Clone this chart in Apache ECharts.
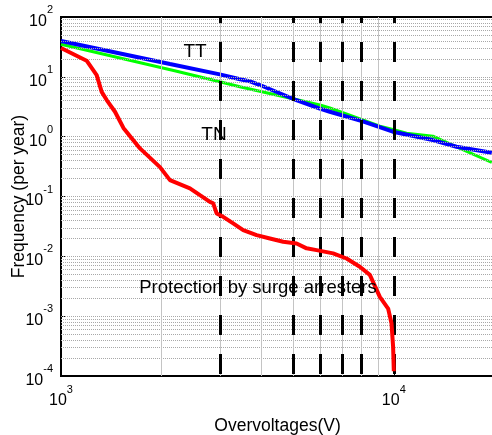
<!DOCTYPE html>
<html>
<head>
<meta charset="utf-8">
<script src="https://cdn.jsdelivr.net/npm/echarts@6/dist/echarts.min.js"></script>
<style>
  html, body { margin: 0; padding: 0; background: #fff; }
  #chart { width: 492px; height: 435px; }
</style>
</head>
<body>
<div id="chart"></div>
<script>
// TT (blue)
var ttData = [
  [1000, 39.7], [2125, 16.4], [3000, 11.0], [3450, 9.1], [3700, 8.4], [3960, 7.3],
  [4974, 4.3], [5996, 2.95], [6423, 2.61], [8070, 1.8], [9931, 1.21],
  [13100, 0.877], [15430, 0.678], [19700, 0.538]
];
// TN (green)
var tnData = [
  [1000, 35.0], [2195, 12.6], [3002, 8.28], [3446, 6.83], [4974, 4.3], [5996, 3.38],
  [6423, 3.01], [8070, 1.9], [9078, 1.5], [9931, 1.32], [10920, 1.14],
  [13100, 1.02], [15430, 0.678], [19700, 0.37]
];
// protection by surge arresters (red)
var spdData = [
  [1000, 30.3], [1194, 18.6], [1280, 10.7], [1325, 5.6], [1372, 4.09], [1453, 2.61],
  [1540, 1.4], [1727, 0.637], [1983, 0.31], [2125, 0.188], [2440, 0.137],
  [2615, 0.1055], [2802, 0.0815], [2867, 0.077], [2935, 0.052], [3072, 0.0458],
  [3291, 0.0355], [3527, 0.0274], [3870, 0.0226], [4243, 0.0199], [4652, 0.0175],
  [5104, 0.0164], [5469, 0.0136], [5861, 0.0127], [6572, 0.0112], [7211, 0.0092],
  [7904, 0.0067], [8472, 0.0049], [9078, 0.0021], [9614, 0.00134], [9842, 0.00076],
  [9951, 0.00031], [10000, 0.00012]
];
var markVoltages = [3000, 5000, 6000, 7000, 8000, 10000];
var xMinor = [2000, 3000, 4000, 5000, 6000, 7000, 8000, 9000];

var font = '"Liberation Sans", Arial, sans-serif';

// dotted horizontal grid at every 1..9 x 10^e
var yGrid = [];
for (var e = -4; e < 2; e++) {
  for (var k = 1; k < 10; k++) {
    if (k === 1 && e === -4) continue;
    yGrid.push({ yAxis: +(k * Math.pow(10, e)).toPrecision(6) });
  }
}

function powLabel(v) {
  var p = Math.round(Math.log10(v));
  if (Math.abs(Math.log10(v) - p) > 1e-6) return '';
  return '{b|10}{s|' + p + '}';
}

var richLabel = {
  b: { fontSize: 16, fontFamily: font, color: '#000', verticalAlign: 'bottom', padding: [9, 0, 0, 0] },
  s: { fontSize: 11, fontFamily: font, color: '#000', verticalAlign: 'top' }
};

var myChart = echarts.init(document.getElementById('chart'));
var option = {
  animation: false,
  grid: {
    left: 61, top: 17, width: 433, height: 359,
    containLabel: false, outerBoundsMode: 'none',
    show: true, borderColor: '#000', borderWidth: 2, backgroundColor: '#fff'
  },
  xAxis: {
    type: 'log', logBase: 10, min: 1000, max: 20000,
    name: 'Overvoltages(V)', nameLocation: 'middle', nameGap: 41, nameMoveOverlap: false,
    nameTextStyle: { fontSize: 17.5, fontFamily: font, color: '#000' },
    axisLine: { show: true, lineStyle: { color: '#000', width: 2 } },
    axisTick: { show: true, inside: true, length: 5, lineStyle: { color: '#000' } },
    axisLabel: { formatter: powLabel, margin: 8, rich: richLabel, showMaxLabel: false },
    splitLine: { show: false }
  },
  yAxis: {
    type: 'log', logBase: 10, min: 1e-4, max: 100,
    name: 'Frequency (per year)', nameLocation: 'middle', nameGap: 33, nameMoveOverlap: false,
    nameTextStyle: { fontSize: 17.5, fontFamily: font, color: '#000' },
    axisLine: { show: true, lineStyle: { color: '#000', width: 2 } },
    axisTick: { show: true, inside: true, length: 5, lineStyle: { color: '#000' } },
    axisLabel: { formatter: powLabel, margin: 8, rich: richLabel },
    splitLine: { show: false }
  },
  series: [
    {
      type: 'line', data: [], silent: true, z: 1,
      markLine: {
        silent: true, symbol: 'none', label: { show: false }, precision: 6,
        lineStyle: { color: '#a8a8a8', width: 1, type: [1, 1] },
        data: yGrid
      }
    },
    {
      type: 'line', data: [], silent: true, z: 1,
      markLine: {
        silent: true, symbol: 'none', label: { show: false },
        lineStyle: { color: '#c4c4c4', width: 1, type: 'solid' },
        data: xMinor.map(function (v) { return { xAxis: v }; })
      }
    },
    {
      type: 'line', data: [], silent: true, z: 2,
      markLine: {
        silent: true, symbol: 'none', label: { show: false },
        lineStyle: { color: '#000', width: 3, type: [20, 19], dashOffset: 37 },
        data: markVoltages.map(function (v) { return { xAxis: v }; })
      }
    },
    {
      name: 'TN', type: 'line', data: tnData, showSymbol: false, z: 3,
      lineStyle: { color: '#00ff00', width: 3 }
    },
    {
      name: 'TT', type: 'line', data: ttData, showSymbol: false, z: 4,
      lineStyle: { color: '#0000ff', width: 4 }
    },
    {
      name: 'Protection by surge arresters', type: 'line', data: spdData, showSymbol: false, z: 5,
      lineStyle: { color: '#ff0000', width: 4 }
    }
  ],
  graphic: [
    { type: 'text', x: 195, y: 52, z: 10, style: { text: 'TT', font: '19px ' + font, fill: '#000', align: 'center', verticalAlign: 'middle' } },
    { type: 'text', x: 214, y: 135, z: 10, style: { text: 'TN', font: '19px ' + font, fill: '#000', align: 'center', verticalAlign: 'middle' } },
    { type: 'text', x: 258, y: 288, z: 10, style: { text: 'Protection by surge arresters', font: '18.5px ' + font, fill: '#000', align: 'center', verticalAlign: 'middle' } }
  ]
};
myChart.setOption(option);
</script>
</body>
</html>
